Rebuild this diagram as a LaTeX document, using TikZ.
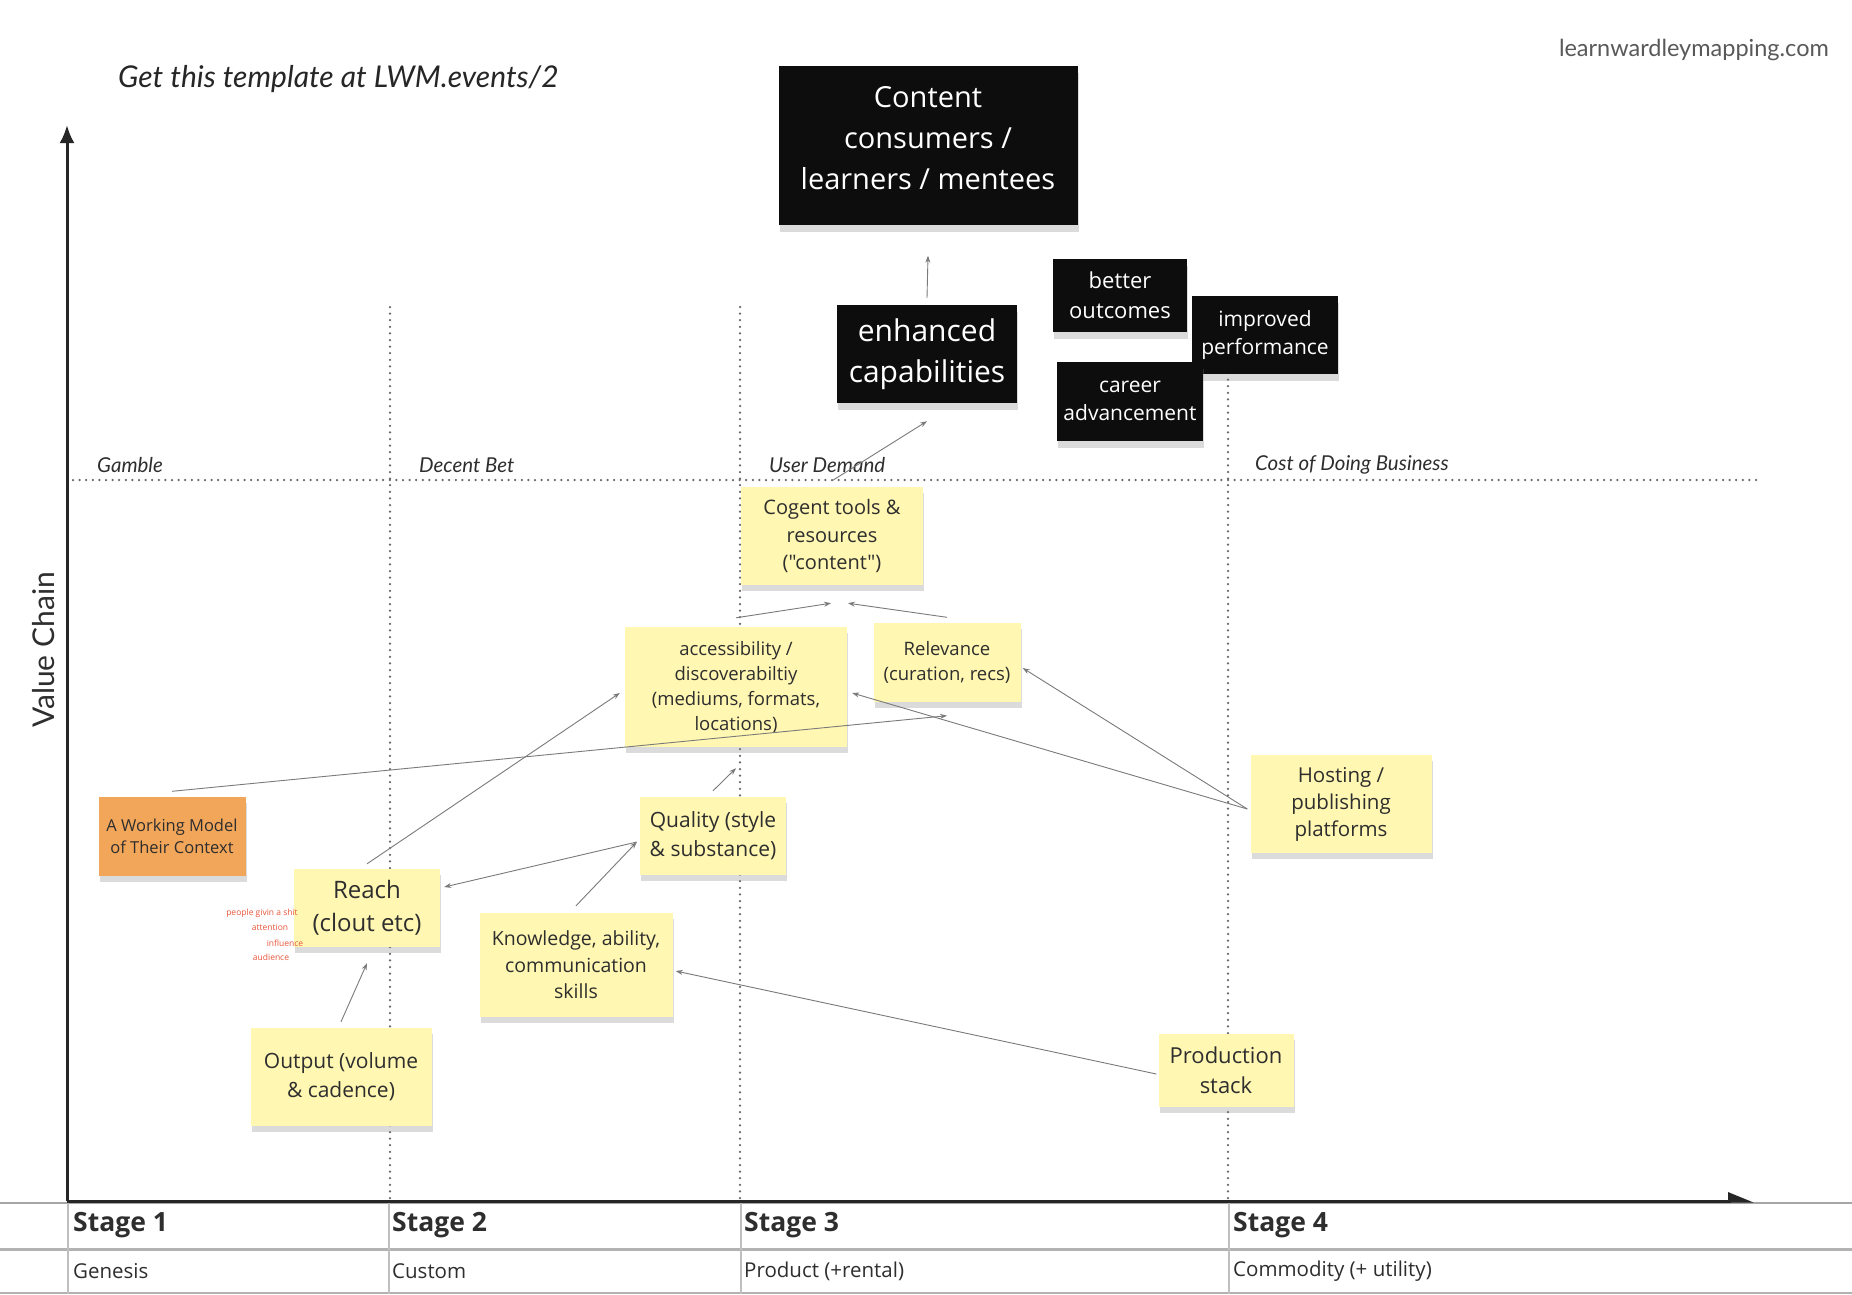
\documentclass[tikz,border=0pt]{standalone}
\usepackage{fontspec}
\setmainfont{Open Sans}
\newfontfamily\rawfont{Open Sans}[Ligatures=TeXOff]
\newfontfamily\latofont{Lato}
\usetikzlibrary{arrows.meta,shadows}
\definecolor{sticky}{HTML}{FFF7B2}
\definecolor{orangenote}{HTML}{F2A65A}
\definecolor{inkgray}{HTML}{2E2E2E}
\definecolor{linkgray}{HTML}{7A7A7A}
\definecolor{redtext}{HTML}{E8553A}
\tikzset{
  note/.style={fill=sticky, text=inkgray, align=center, inner sep=0pt,
    drop shadow={shadow xshift=1pt, shadow yshift=-6pt, opacity=.28}},
  orangebox/.style={note, fill=orangenote},
  darknote/.style={fill=black!95, text=white, align=center, inner sep=0pt,
    drop shadow={shadow xshift=1pt, shadow yshift=-7pt, opacity=.28}},
  link/.style={draw=linkgray, line width=.9pt, -{Stealth[length=7pt,width=5pt]}},
  stagedots/.style={draw=black!60, line width=2.5pt, line cap=round, dash pattern=on 0pt off 6.6pt},
  lbl/.style={inner sep=0pt, anchor=west, text=inkgray},
  redlbl/.style={inner sep=0pt, text=redtext, font=\fontsize{8.5}{10}\selectfont},
}

\begin{document}
\begin{tikzpicture}[x=1pt,y=-1pt]
\useasboundingbox (0,0) rectangle (1852,1294);
\fill[white] (0,0) rectangle (1852,1294);

% evolution stages
\draw[stagedots] (73,480) -- (1756,480);
\foreach \sx in {390,740,1228}
  \draw[stagedots] (\sx,307) -- (\sx,1198);

% table under the map
\draw[gray!70, line width=2pt] (0,1203) -- (1852,1203);
\draw[gray!60, line width=3pt] (0,1249) -- (1852,1249);
\draw[gray!60, line width=2pt] (0,1293) -- (1852,1293);
\foreach \sx in {68,389,741,1229}
  \draw[gray!50, line width=1.5pt] (\sx,1203) -- (\sx,1294);

% axes
\draw[line width=3pt, draw=black!85, -{Latex[length=18pt,width=15pt]}] (67,1201) -- (67,125);
\draw[line width=3pt, draw=black!85, -{Triangle[left,length=22pt,width=17pt]}] (67,1201) -- (1754,1201);

\node[rotate=90, text=inkgray, font=\latofont\fontsize{30}{32}\selectfont] (vchain) at (44,650) {Value Chain};
\node[lbl, font=\latofont\itshape\fontsize{20.5}{22}\selectfont] (gamble) at (97,465) {Gamble};
\node[lbl, font=\latofont\itshape\fontsize{20.5}{22}\selectfont] (decent) at (419,465) {Decent Bet};
\node[lbl, font=\latofont\itshape\fontsize{20.5}{22}\selectfont] (demand) at (769,465) {User Demand};
\node[lbl, font=\latofont\itshape\fontsize{20.5}{22}\selectfont] (costdb) at (1255,465) {Cost of Doing Business};

\node[lbl, text=black!85, font=\latofont\itshape\fontsize{30}{32}\selectfont] (tmpl) at (118,79) {Get this template at LWM.events/2};
\node[lbl, anchor=east, text=black!65, font=\latofont\fontsize{23.5}{26}\selectfont] (url) at (1829,50) {learnwardleymapping.com};

\node[lbl, font=\bfseries\fontsize{26.5}{30}\selectfont] (st1) at (73,1225) {Stage 1};
\node[lbl, font=\bfseries\fontsize{26.5}{30}\selectfont] (st2) at (392,1225) {Stage 2};
\node[lbl, font=\bfseries\fontsize{26.5}{30}\selectfont] (st3) at (744,1225) {Stage 3};
\node[lbl, font=\bfseries\fontsize{26.5}{30}\selectfont] (st4) at (1233,1225) {Stage 4};
\node[lbl, font=\fontsize{20.5}{24}\selectfont] (gen) at (73,1271) {Genesis};
\node[lbl, font=\fontsize{20.5}{24}\selectfont] (cust) at (392,1271) {Custom};
\node[lbl, font=\fontsize{20.5}{24}\selectfont] (prodr) at (744,1271) {Product (+rental)};
\node[lbl, font=\fontsize{20.5}{24}\selectfont] (comm) at (1233,1271) {Commodity (+ utility)};

% users and needs
\node[darknote, minimum width=299pt, minimum height=159pt, text depth=14pt, font=\fontsize{29}{41}\selectfont] (cons) at (928,145) {Content\\consumers /\\learners / mentees};
\node[darknote, minimum width=180pt, minimum height=98pt, font=\fontsize{30}{41}\selectfont] (enh) at (927,354) {enhanced\\capabilities};
\node[darknote, minimum width=134pt, minimum height=73pt, font=\fontsize{22}{30}\selectfont] (better) at (1120,295) {better\\outcomes};
\node[darknote, minimum width=146pt, minimum height=78pt, font=\fontsize{21}{28}\selectfont] (perf) at (1265,335) {improved\\performance};
\node[darknote, minimum width=146pt, minimum height=79pt, font=\fontsize{21}{28}\selectfont] (career) at (1130,401) {career\\advancement};

% components
\node[note, minimum width=182pt, minimum height=98pt, font=\fontsize{20}{27.5}\selectfont] (cog) at (832,536) {Cogent tools \&\\resources\\{\rawfont("content")}};
\node[note, minimum width=222pt, minimum height=120pt, font=\fontsize{18.5}{25}\selectfont] (acc) at (736,687) {accessibility /\\discoverabiltiy\\(mediums, formats,\\locations)};
\node[note, minimum width=147pt, minimum height=79pt, font=\fontsize{18.5}{25}\selectfont] (rel) at (947,662) {Relevance\\(curation, recs)};
\node[note, minimum width=146pt, minimum height=78pt, font=\fontsize{21}{29}\selectfont] (qual) at (713,836) {Quality (style\\\& substance)};
\node[note, minimum width=146pt, minimum height=78pt, font=\fontsize{24}{33}\selectfont] (reach) at (367,908) {Reach\\(clout etc)};
\node[note, minimum width=193pt, minimum height=104pt, font=\fontsize{19.5}{26.5}\selectfont] (know) at (576,965) {Knowledge, ability,\\communication\\skills};
\node[note, minimum width=181pt, minimum height=98pt, font=\fontsize{21}{29}\selectfont] (out) at (341,1077) {Output (volume\\\& cadence)};
\node[orangebox, minimum width=147pt, minimum height=79pt, font=\fontsize{16.5}{22}\selectfont] (model) at (172,836) {A Working Model\\of Their Context};
\node[note, minimum width=181pt, minimum height=98pt, font=\fontsize{20.5}{27}\selectfont] (host) at (1341,804) {Hosting /\\publishing\\platforms};
\node[note, minimum width=135pt, minimum height=73pt, font=\fontsize{22}{30}\selectfont] (prod) at (1226,1070) {Production\\stack};

% dependencies
\draw[link] ([yshift=7pt]enh.north) -- ([yshift=-31pt]cons.south);
\draw[link] ([yshift=6pt]cog.north) -- ([yshift=-18pt]enh.south);
\draw[link] ([yshift=9pt]acc.north) -- ([xshift=-1pt,yshift=-18pt]cog.south);
\draw[link] ([yshift=5pt]rel.north) -- ([xshift=16pt,yshift=-18pt]cog.south);
\draw[link] ([yshift=6pt]qual.north) -- ([yshift=-21pt]acc.south);
\draw[link] ([yshift=5pt]reach.north) -- ([xshift=-5pt,yshift=-6pt]acc.west);
\draw[link] ([xshift=-3pt,yshift=-6pt]qual.west) -- ([xshift=4pt,yshift=21pt]reach.east);
\draw[link] ([yshift=7pt]know.north) -- ([xshift=-3pt,yshift=-6pt]qual.west);
\draw[link] ([yshift=6pt]out.north) -- ([yshift=-16pt]reach.south);
\draw[link] ([yshift=5pt]model.north) -- ([yshift=-14pt]rel.south);
\draw[link] ([xshift=-3pt,yshift=-5pt]host.west) -- ([xshift=2pt,yshift=-6pt]rel.east);
\draw[link] ([xshift=-3pt,yshift=-5pt]host.west) -- ([xshift=5pt,yshift=-6pt]acc.east);
\draw[link] ([xshift=-2pt,yshift=-4pt]prod.west) -- ([xshift=3pt,yshift=-6pt]know.east);

% notes on reach
\node[redlbl] (r1) at (262,913) {people givin a shit};
\node[redlbl] (r2) at (270,927) {attention};
\node[redlbl] (r3) at (285,943) {influence};
\node[redlbl] (r4) at (271,957) {audience};
\end{tikzpicture}
\end{document}
